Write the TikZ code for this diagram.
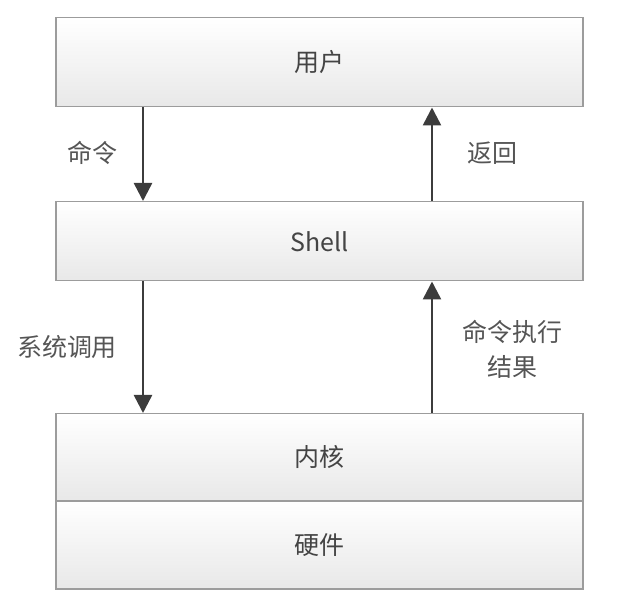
\documentclass[tikz,border=0pt]{standalone}
\usepackage{fontspec}
\setmainfont{Noto Sans CJK SC}
\usetikzlibrary{arrows.meta}
\definecolor{boxgray}{HTML}{9C9C9C}
\definecolor{textdark}{HTML}{444444}
\definecolor{labelgray}{HTML}{555555}
\definecolor{arrowgray}{HTML}{3C3C3C}
\begin{document}
\begin{tikzpicture}[x=1pt,y=-1pt,
  layer/.style={draw=boxgray, line width=1.5pt, top color=white, bottom color=black!9,
    minimum width=527pt, inner sep=0pt, text=textdark,
    font=\fontsize{25}{30}\selectfont, anchor=north west},
  flow/.style={draw=arrowgray, line width=2.5pt, -{Triangle[width=18pt,length=18pt]}},
  lbl/.style={text=labelgray, font=\fontsize{25}{35}\selectfont, align=center, inner sep=0pt}]
\useasboundingbox (0,0) rectangle (622,604);
\node[layer, minimum height=89pt] (user) at (55,17) {用户};
\node[layer, minimum height=79pt] (shell) at (55,201) {Shell};
\node[layer, minimum height=87pt] (kernel) at (55,413) {内核};
\node[layer, minimum height=88pt] (hw) at (55,500) {硬件};
\coordinate (xl) at (143,0);
\coordinate (xr) at (432,0);
\draw[flow] (user.south -| xl) -- (shell.north -| xl);
\draw[flow] (shell.north -| xr) -- (user.south -| xr);
\draw[flow] (shell.south -| xl) -- (kernel.north -| xl);
\draw[flow] (kernel.north -| xr) -- (shell.south -| xr);
\node[lbl] (l1) at (92,153) {命令};
\node[lbl] (l2) at (492,153) {返回};
\node[lbl] (l3) at (67,347) {系统调用};
\node[lbl] (l4) at (512,349.5) {命令执行\\结果};
\end{tikzpicture}
\end{document}
